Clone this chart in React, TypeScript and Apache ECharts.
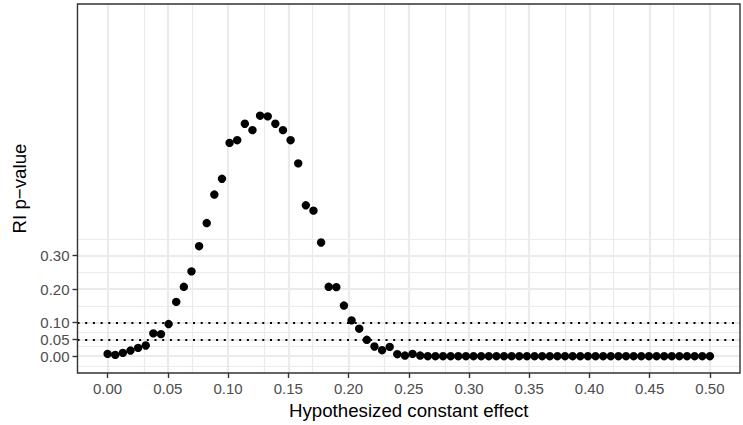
import React, { useEffect, useRef } from "react";
import * as echarts from "echarts";

// Hypothesized constant effect (x) and randomization-inference p-values (y)
const effects = [
  0.0, 0.00633, 0.01266, 0.01899, 0.02532, 0.03165, 0.03797, 0.0443, 0.05063, 0.05696,
  0.06329, 0.06962, 0.07595, 0.08228, 0.08861, 0.09494, 0.10127, 0.10759, 0.11392, 0.12025,
  0.12658, 0.13291, 0.13924, 0.14557, 0.1519, 0.15823, 0.16456, 0.17089, 0.17722, 0.18354,
  0.18987, 0.1962, 0.20253, 0.20886, 0.21519, 0.22152, 0.22785, 0.23418, 0.24051, 0.24684,
  0.25316, 0.25949, 0.26582, 0.27215, 0.27848, 0.28481, 0.29114, 0.29747, 0.3038, 0.31013,
  0.31646, 0.32278, 0.32911, 0.33544, 0.34177, 0.3481, 0.35443, 0.36076, 0.36709, 0.37342,
  0.37975, 0.38608, 0.39241, 0.39873, 0.40506, 0.41139, 0.41772, 0.42405, 0.43038, 0.43671,
  0.44304, 0.44937, 0.4557, 0.46203, 0.46835, 0.47468, 0.48101, 0.48734, 0.49367, 0.5,
];
const pValues = [
  0.007, 0.004, 0.01, 0.017, 0.025, 0.032, 0.068, 0.066, 0.096, 0.162,
  0.207, 0.253, 0.328, 0.397, 0.482, 0.529, 0.636, 0.644, 0.693, 0.674,
  0.717, 0.715, 0.693, 0.674, 0.644, 0.575, 0.45, 0.434, 0.339, 0.207,
  0.206, 0.151, 0.107, 0.082, 0.049, 0.029, 0.018, 0.028, 0.006, 0.002,
  0.007, 0.002, 0, 0, 0, 0, 0, 0, 0, 0,
  0, 0, 0, 0, 0, 0, 0, 0, 0, 0,
  0, 0, 0, 0, 0, 0, 0, 0, 0, 0,
  0, 0, 0, 0, 0, 0, 0, 0, 0, 0,
];

const xTicks = [0, 0.05, 0.1, 0.15, 0.2, 0.25, 0.3, 0.35, 0.4, 0.45, 0.5];
const yTicks = [0, 0.05, 0.1, 0.2, 0.3];
const xMinorGrid = [0.025, 0.075, 0.125, 0.175, 0.225, 0.275, 0.325, 0.375, 0.425, 0.475];
const yMinorGrid = [-0.025, 0.025, 0.075, 0.15, 0.25, 0.35];
const thresholds = [0.05, 0.1];

const xRange = [-0.025, 0.525];
const yRange = [-0.05, 1.05];

export default function App() {
  const ref = useRef<HTMLDivElement>(null);
  useEffect(() => {
    if (!ref.current) return;
    const chart = echarts.init(ref.current, null, { renderer: "svg" });
    const font = "'Liberation Sans', Arial, Helvetica, sans-serif";
    const major = { color: "#EBEBEB", width: 2.2, type: "solid" };
    const minor = { color: "#EBEBEB", width: 1.1, type: "solid" };
    const gridLines = [
      ...yMinorGrid.map((v) => ({ yAxis: v, lineStyle: minor })),
      ...xMinorGrid.map((v) => ({ xAxis: v, lineStyle: minor })),
      ...yTicks.map((v) => ({ yAxis: v, lineStyle: major })),
      ...xTicks.map((v) => ({ xAxis: v, lineStyle: major })),
    ];
    const tickStyle = { color: "#333333", width: 1.4 };
    const labelStyle = { color: "#4D4D4D", fontSize: 15, fontFamily: font };
    chart.setOption({
      animation: false,
      backgroundColor: "#FFFFFF",
      grid: {
        left: 77.5,
        right: 3,
        top: 4,
        bottom: 52,
        show: true,
        borderColor: "#333333",
        borderWidth: 1.4,
        backgroundColor: "transparent",
        z: 20,
      },
      xAxis: {
        type: "value",
        min: xRange[0],
        max: xRange[1],
        axisLine: { show: false, onZero: false },
        splitLine: { show: false },
        axisTick: { show: true, customValues: xTicks, length: 5, lineStyle: tickStyle },
        axisLabel: {
          ...labelStyle,
          customValues: xTicks,
          margin: 8,
          formatter: (v: number) => v.toFixed(2),
        },
        name: "Hypothesized constant effect",
        nameLocation: "middle",
        nameGap: 27,
        nameTextStyle: { fontSize: 18.7, color: "#000000", fontFamily: font },
      },
      yAxis: {
        type: "value",
        min: yRange[0],
        max: yRange[1],
        axisLine: { show: false, onZero: false },
        splitLine: { show: false },
        axisTick: { show: true, customValues: yTicks, length: 5, lineStyle: tickStyle },
        axisLabel: {
          ...labelStyle,
          customValues: yTicks,
          margin: 8,
          formatter: (v: number) => v.toFixed(2),
        },
        name: "RI p\u2212value",
        nameLocation: "middle",
        nameRotate: 90,
        nameGap: 47,
        nameTextStyle: { fontSize: 18.7, color: "#000000", fontFamily: font },
      },
      series: [
        {
          type: "scatter",
          data: [],
          silent: true,
          z: 1,
          markLine: {
            silent: true,
            symbol: ["none", "none"],
            label: { show: false },
            z: 1,
            animation: false,
            data: gridLines,
          },
        },
        {
          type: "scatter",
          data: [],
          silent: true,
          z: 2,
          markLine: {
            silent: true,
            symbol: ["none", "none"],
            label: { show: false },
            z: 2,
            animation: false,
            lineStyle: { color: "#000000", width: 2, type: [2, 5.7], cap: "butt", opacity: 1 },
            data: thresholds.map((v) => ({ yAxis: v })),
          },
        },
        {
          type: "scatter",
          z: 10,
          symbol: "circle",
          symbolSize: 8.4,
          itemStyle: { color: "#000000", opacity: 1 },
          data: effects.map((x, i) => [x, pValues[i]]),
        },
      ],
    });
    return () => chart.dispose();
  }, []);
  return (
    <div
      ref={ref}
      style={{ position: "fixed", left: 0, top: 0, width: 743, height: 425, background: "#fff" }}
    />
  );
}
